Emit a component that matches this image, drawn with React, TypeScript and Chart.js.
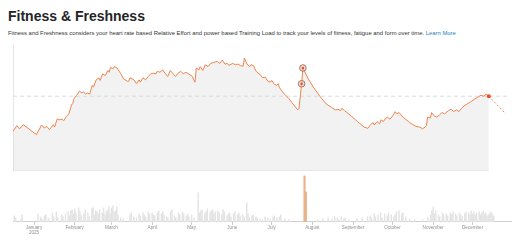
import React, { useEffect, useRef } from "react";
import { Chart, registerables } from "chart.js";

Chart.register(...registerables);

// x axis: day index, day 0 = 16 Dec 2024
const monthDays = [16, 47, 75, 106, 136, 167, 197, 228, 259, 289, 320, 350];
const monthLabels: (string | string[])[] = [
  ["January", "2025"], "February", "March", "April", "May", "June",
  "July", "August", "September", "October", "November", "December",
];
const X_MIN = 0;
const X_MAX = 380;

// Fitness curve
const fitnessDays = [
  0, 3, 5, 8, 18, 22, 24, 26, 28, 31, 32, 34, 36, 38, 39, 41, 43, 45, 46, 47, 49, 51, 53, 54, 56, 57, 59, 60, 61, 62, 64, 66, 67, 69, 71, 73, 74, 75, 77, 78, 80,
  83, 85, 87, 88, 89, 90, 93, 95, 97, 98, 100, 102, 104, 106, 108, 110, 111, 113, 115, 117, 119, 121, 123, 125, 127, 129, 131, 133, 135, 138, 139, 140,
  141, 143, 144, 146, 148, 150, 152, 154, 157, 159, 161, 163, 165, 166, 169, 171, 173, 175, 177, 178, 180, 182, 183, 185, 187, 190, 192, 194, 196, 198, 199,
  201, 203, 204, 205, 208, 212, 216, 219, 220, 222, 223, 224, 227, 231, 236, 241, 245, 248, 250, 252, 253, 255, 260, 265, 270, 273, 275, 277, 278, 280,
  282, 283, 285, 286, 288, 290, 292, 294, 295, 297, 300, 305, 310, 313, 315, 317, 318, 319, 321, 322, 324, 326, 328, 330, 332, 335, 337, 339, 341, 343,
  345, 347, 350, 352, 354, 356, 358, 360, 362, 364, 366,
];
const fitnessValues = [
  25.2, 28.8, 26.7, 29.4, 23.1, 29.2, 27.3, 28.3, 26.3, 29.4, 27.9, 33.1, 32.5, 32.9, 31.9, 34.6, 36.3, 41.9, 42.9, 46.1, 48.1, 50.8, 49.6, 50.2, 48.8, 49.6, 48.8, 51.7, 54.4, 53.3, 57.9, 59.2, 57.5, 61.7, 60.6, 63.8, 62.7, 65.8, 65.0, 66.3, 65.4,
  61.7, 58.5, 57.5, 57.0, 57.0, 59.2, 57.9, 55.4, 57.9, 56.4, 59.2, 57.9, 60.0, 61.7, 62.1, 61.7, 63.3, 62.7, 64.2, 62.1, 60.0, 63.8, 61.9, 60.0, 62.1, 63.3, 61.7, 62.7, 61.7, 60.0, 57.9, 56.4,
  65.4, 64.2, 66.3, 63.8, 67.5, 66.3, 68.3, 68.8, 69.6, 68.3, 70.4, 67.9, 68.3, 67.1, 68.3, 67.5, 67.9, 66.9, 66.5, 71.7, 67.9, 66.3, 67.5, 66.9, 63.3, 61.3, 59.2, 59.6, 57.1, 56.4, 57.5,
  55.0, 54.4, 55.4, 52.9, 49.6, 46.1, 41.9, 38.8, 39.8, 55.4, 65.4, 63.8, 58.6, 53.3, 47.5, 42.5, 40.4, 38.8, 39.2, 38.3, 39.8, 38.3, 35.0, 31.4, 27.9, 27.1, 29.4, 30.8, 29.2, 31.4,
  30.0, 32.5, 31.4, 32.9, 34.2, 32.9, 35.0, 37.7, 36.3, 37.1, 34.2, 30.8, 28.3, 27.9, 26.7, 27.9, 28.8, 34.2, 33.6, 37.1, 35.0, 34.2, 35.6, 37.1, 36.3, 38.3, 39.2, 37.7, 38.8, 37.7,
  39.8, 41.3, 42.9, 43.9, 45.0, 46.1, 47.1, 48.1, 47.5, 48.8, 47.5,
];
const projectionDays = [366, 379];
const projectionValues = [47.5, 36.3];
const keyDays = [222, 223];
const keyValues = [55.4, 65.4];
const todayDays = [366];
const todayValues = [47.5];
const referenceValue = 47.5;
const Y_MAX = 80;

// Training load bars
const loadDays = [
  1, 2, 6, 7, 19, 21, 22, 24, 25, 27, 30, 31, 33, 34, 37, 38, 40, 42, 43, 44, 45, 46,
  47, 48, 50, 51, 52, 54, 55, 57, 58, 60, 61, 62, 63, 64, 65, 66, 68, 69, 70, 71, 72, 73, 74,
  75, 76, 77, 78, 79, 80, 82, 84, 89, 90, 92, 94, 96, 97, 99, 100, 101, 103, 104, 106,
  107, 108, 110, 111, 113, 114, 115, 117, 118, 120, 121, 123, 124, 126, 127, 129, 130, 132, 133, 134, 136,
  138, 141, 142, 143, 144, 146, 147, 148, 150, 151, 152, 153, 154, 156, 157, 159, 160, 161, 163, 164, 165, 166,
  168, 169, 171, 172, 173, 175, 176, 178, 179, 180, 182, 183, 185, 186, 188, 190, 192, 194, 196,
  198, 199, 201, 203, 204, 207, 210,
  232, 236, 240, 243, 245, 247, 248, 250, 252, 253, 256,
  262, 266, 270, 272, 273, 275, 276, 278, 280, 281, 283, 285, 286, 288, 290,
  291, 292, 294, 296, 297, 299, 302, 306, 312, 316, 318, 319, 320,
  321, 322, 324, 325, 327, 328, 330, 331, 333, 334, 335, 337, 338, 340, 341, 342, 344, 345, 347, 348, 349,
  350, 351, 352, 353, 355, 356, 357, 358, 359, 360, 361, 362, 363, 364, 365, 366,
];
const loadValues = [
  12, 8, 6, 14, 16, 10, 6, 12, 14, 8, 18, 10, 20, 8, 14, 10, 16, 20, 12, 22, 24, 16,
  26, 18, 28, 20, 12, 16, 24, 18, 10, 26, 28, 14, 22, 20, 16, 24, 18, 28, 14, 20, 24, 30, 16,
  28, 32, 20, 22, 30, 14, 8, 6, 14, 18, 10, 8, 16, 12, 18, 14, 10, 20, 16, 18,
  14, 12, 18, 22, 16, 20, 14, 10, 8, 20, 24, 12, 8, 18, 14, 20, 16, 12, 16, 10, 14,
  8, 58, 18, 22, 24, 16, 20, 26, 18, 22, 24, 16, 20, 22, 18, 14, 24, 20, 12, 16, 18, 10,
  16, 20, 14, 18, 12, 14, 10, 38, 16, 8, 12, 14, 10, 8, 6, 4, 10, 8, 6,
  10, 12, 8, 10, 14, 6, 4,
  4, 6, 8, 6, 10, 8, 4, 10, 6, 8, 4,
  6, 8, 10, 12, 8, 16, 10, 14, 18, 8, 16, 12, 18, 14, 10,
  14, 20, 22, 16, 18, 10, 6, 4, 4, 8, 14, 22, 30,
  16, 22, 14, 10, 18, 14, 16, 12, 18, 14, 20, 16, 12, 18, 14, 10, 16, 20, 18, 14, 22,
  16, 20, 14, 18, 20, 14, 18, 22, 16, 18, 12, 14, 18, 20, 16, 12,
];
const highlightDays = [222, 223];
const highlightValues = [92, 60];
const LOAD_MAX = 100;

const pts = (xs: number[], ys: number[]) => xs.map((x, i) => ({ x, y: ys[i] }));

const ORANGE = "#f0844e";
const FONT = "'Liberation Sans', Arial, sans-serif";

export default function App() {
  const topRef = useRef<HTMLCanvasElement>(null);
  const botRef = useRef<HTMLCanvasElement>(null);

  useEffect(() => {
    const fitness = pts(fitnessDays, fitnessValues);
    const top = new Chart(topRef.current!, {
      type: "line",
      data: {
        datasets: [
          {
            type: "scatter",
            data: pts(keyDays, keyValues),
            pointRadius: 1.3,
            pointBackgroundColor: "#e5522a",
            pointBorderWidth: 0,
            order: 0,
          } as any,
          {
            type: "scatter",
            data: pts(keyDays, keyValues),
            pointRadius: 3.3,
            pointBackgroundColor: "rgba(240,200,180,0.6)",
            pointBorderColor: "#a07a68",
            pointBorderWidth: 1,
            order: 0.5,
          } as any,
          {
            type: "scatter",
            data: pts(todayDays, todayValues),
            pointRadius: 2,
            pointBackgroundColor: "#ef4f22",
            pointBorderWidth: 0,
            order: 0,
          } as any,
          {
            data: fitness,
            borderColor: ORANGE,
            borderWidth: 1,
            pointRadius: 0,
            fill: false,
            tension: 0,
            order: 1,
          },
          {
            data: pts(projectionDays, projectionValues),
            borderColor: ORANGE,
            borderWidth: 1,
            borderDash: [2, 2],
            pointRadius: 0,
            fill: false,
            order: 1,
          },
          {
            data: [{ x: X_MIN, y: referenceValue }, { x: X_MAX, y: referenceValue }],
            borderColor: "#dadada",
            borderWidth: 1,
            borderDash: [4, 3],
            pointRadius: 0,
            fill: false,
            order: 2,
          },
          {
            data: [{ x: X_MIN, y: 0 }, { x: X_MIN, y: Y_MAX }],
            borderColor: "#cfcfcf",
            borderWidth: 1,
            pointRadius: 0,
            fill: false,
            order: 2,
          },
          {
            data: [{ x: X_MIN, y: 0 }, { x: todayDays[0], y: 0 }],
            borderColor: "#dcdcdc",
            borderWidth: 1,
            pointRadius: 0,
            fill: false,
            order: 2,
          },
          {
            data: fitness,
            borderWidth: 0,
            borderColor: "rgba(0,0,0,0)",
            backgroundColor: "#f2f2f2",
            pointRadius: 0,
            fill: "origin",
            order: 3,
          },
        ],
      },
      options: {
        animation: false,
        responsive: false,
        events: [],
        layout: { padding: { left: 13, right: 0, top: 4, bottom: 4 } },
        scales: {
          x: { type: "linear", min: X_MIN, max: X_MAX, display: false },
          y: { min: 0, max: Y_MAX, display: false },
        },
        plugins: { legend: { display: false }, tooltip: { enabled: false } },
      },
    });

    const bot = new Chart(botRef.current!, {
      type: "bar",
      data: {
        datasets: [
          {
            data: pts(highlightDays, highlightValues),
            backgroundColor: "#e8b38a",
            barThickness: 1.5,
            grouped: false,
            order: 0,
          } as any,
          {
            data: pts(loadDays, loadValues),
            backgroundColor: "#e3e3e3",
            barThickness: 0.8,
            grouped: false,
            order: 1,
          } as any,
        ],
      },
      options: {
        animation: false,
        responsive: false,
        events: [],
        layout: { padding: { left: 13, right: 0, top: 0, bottom: 7 } },
        scales: {
          x: {
            type: "linear",
            min: X_MIN,
            max: X_MAX,
            offset: false,
            grid: { display: true, drawOnChartArea: false, drawTicks: true, tickLength: 3, color: "#cccccc", offset: false },
            border: { display: true, color: "#d0d0d0" },
            afterBuildTicks: (scale: any) => {
              scale.ticks = monthDays.map((v) => ({ value: v }));
            },
            ticks: {
              autoSkip: false,
              maxRotation: 0,
              padding: 0,
              color: "#8f8f8f",
              font: { size: 4.6, family: FONT, lineHeight: 1.1 },
              callback: (v: any) => {
                const i = monthDays.indexOf(Number(v));
                return i >= 0 ? monthLabels[i] : "";
              },
            },
          },
          y: { min: 0, max: LOAD_MAX, display: false },
        },
        plugins: { legend: { display: false }, tooltip: { enabled: false } },
      },
    });

    return () => {
      top.destroy();
      bot.destroy();
    };
  }, []);

  return (
    <div style={{ position: "absolute", left: 0, top: 0, width: 512, height: 242, background: "#fff", overflow: "hidden", fontFamily: FONT }}>
      <div style={{ position: "absolute", left: 8, top: 8, fontSize: 14, lineHeight: "17px", fontWeight: 700, color: "#242428", whiteSpace: "nowrap" }}>
        Fitness &amp; Freshness
      </div>
      <div style={{ position: "absolute", left: 8, top: 30, fontSize: 5.9, lineHeight: "7px", color: "#333", whiteSpace: "nowrap" }}>
        Fitness and Freshness considers your heart rate based Relative Effort and power based Training Load to track your levels of fitness, fatigue and form over time.{" "}
        <span style={{ color: "#1f7fb8" }}>Learn More</span>
      </div>
      <canvas ref={topRef} width={512} height={136} style={{ position: "absolute", left: 0, top: 40, width: 512, height: 136, display: "block" }} />
      <canvas ref={botRef} width={512} height={70} style={{ position: "absolute", left: 0, top: 172, width: 512, height: 70, display: "block" }} />
    </div>
  );
}
